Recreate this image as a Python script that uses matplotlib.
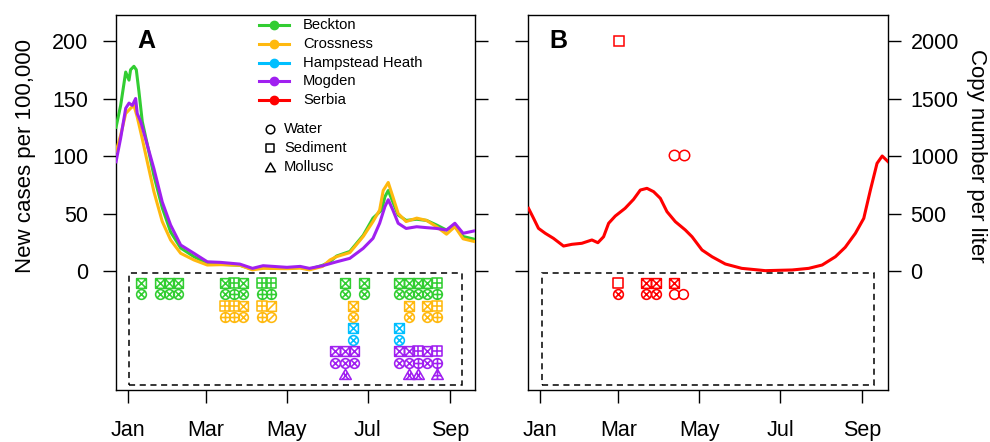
import matplotlib
matplotlib.use('Agg')
import matplotlib.pyplot as plt
from matplotlib.path import Path
from matplotlib.markers import MarkerStyle
from matplotlib.patches import Rectangle
from matplotlib.transforms import blended_transform_factory

plt.rcParams['font.family'] = ['Liberation Sans', 'DejaVu Sans']

# ---------------- data (days since 1 Jan 2021) ----------------
month_ticks = [0, 59, 120, 181, 243]
month_labels = ['Jan', 'Mar', 'May', 'Jul', 'Sep']

beckton_days = [-9, -5.5, -1.7, 0.8, 2, 4.5, 6.3, 8.3, 10.8, 14.6, 19.6, 25.9, 32.2, 39.8, 49.8, 59.9,
                70, 84.5, 94, 102, 120, 130, 137, 147, 152.5, 157.5, 167.5, 177.6, 185, 191.5, 194,
                196.5, 200, 204, 210, 218, 225.4, 233, 240.5, 246.8, 253, 262]
beckton_cases = [125, 144, 173, 166, 175, 178, 175, 156, 130, 110, 83, 55, 34, 20, 12.5, 6.7,
                 5.8, 5, 1.5, 3.5, 2.5, 3, 1.5, 5, 8, 13, 17, 31, 46, 53, 64.6,
                 70, 60, 48.7, 44, 45, 44, 40, 35.6, 40, 30, 27.5]

crossness_days = [-9, -5.5, -1.7, 2, 4.5, 7, 10.8, 14.6, 19.6, 25.9, 32.2, 39.8, 49.8, 59.9, 70,
                  84.5, 94, 102, 120, 130, 137, 147, 152.5, 157.5, 167.5, 177.6, 185, 190, 192.7,
                  196.5, 200, 204, 210, 218, 225.4, 233, 240.5, 246.8, 253, 262]
crossness_cases = [104, 118, 137, 141.5, 144, 134, 115, 95, 69, 43, 27, 15.4, 9.6, 5.2, 5.5,
                   5, 1, 2.3, 2, 2.5, 1, 4, 9.6, 12.5, 16, 30, 43, 53, 70,
                   77, 64.6, 50, 43, 46, 44, 38.5, 32, 38.5, 28, 25.5]

mogden_days = [-9, -5.5, -1.7, 0.8, 3.3, 5.8, 7, 9.6, 14.6, 19.6, 25.9, 32.2, 39.8, 49.8, 59.9, 70,
               84.5, 94, 102, 120, 130, 137, 147, 157.5, 167.5, 177.6, 185, 190, 194, 196.5, 200,
               204, 210, 218, 225.4, 233, 240.5, 246.8, 253, 262]
mogden_cases = [95, 115.6, 141.5, 146, 144, 150, 137, 130, 109.6, 89, 60, 40, 22.6, 15.4, 8, 7.5,
                6, 2.3, 4.6, 3.2, 4, 2.3, 4.6, 8, 11, 19.7, 28.4, 41.5, 56, 62, 53,
                41.5, 37, 38.5, 37.7, 37, 35.6, 41.5, 32.8, 35]

serbia_days = [-8.8, -5, -1.3, 3.8, 10, 17.6, 23.9, 31.4, 39, 43.5, 47.8, 51.6, 56.6, 64, 70.4, 75.5,
               80.5, 85.5, 90.6, 95.6, 101.9, 109.4, 114.5, 122, 129.6, 139.6, 152, 169.8, 190,
               202.5, 212.6, 222.6, 230, 237.7, 244, 249, 254, 257.9, 262.4]
serbia_copies = [545, 458, 371, 328, 284, 217, 232, 241, 270, 246, 298, 415, 478, 545, 623, 704,
                 719, 690, 632, 516, 429, 357, 298, 183, 124, 61, 23, 3, 9,
                 23, 52, 124, 206, 328, 458, 704, 936, 1000, 950]

# sampling results: 'x' crossed, '+' plus, '/' slash, 'o' plain
beckton_sed_days = [10, 24, 31, 38, 73, 80, 87, 101, 108, 164, 178, 205, 212, 219, 226, 233]
beckton_sed_sym = ['x', 'x', 'x', 'x', 'x', '+', 'x', '+', '+', 'x', 'x', 'x', 'x', 'x', 'x', '+']
beckton_wat_days = beckton_sed_days
beckton_wat_sym = beckton_sed_sym

crossness_sed_days = [73, 80, 87, 101, 108, 170, 212, 226, 233]
crossness_sed_sym = ['+', '+', 'x', '+', '/', 'x', 'x', 'x', '+']
crossness_wat_days = crossness_sed_days
crossness_wat_sym = crossness_sed_sym

hampstead_sed_days = [170, 205]
hampstead_sed_sym = ['x', 'x']
hampstead_wat_days = [170, 205]
hampstead_wat_sym = ['x', 'x']

mogden_sed_days = [156, 164, 171, 205, 212, 219, 226, 233]
mogden_sed_sym = ['x', 'x', 'x', 'x', 'x', '+', 'x', '+']
mogden_wat_days = mogden_sed_days
mogden_wat_sym = mogden_sed_sym
mogden_mol_days = [164, 212, 219, 233]
mogden_mol_sym = ['x', 'x', 'x', '+']

serbia_sed_days = [59, 80, 87, 101]
serbia_sed_sym = ['o', 'x', 'x', 'x']
serbia_wat_days = [59, 80, 87, 101, 108]
serbia_wat_sym = ['x', 'x', 'x', 'o', 'o']

serbia_sed_conc_days = [59.5]
serbia_sed_conc = [2000]
serbia_wat_conc_days = [100.6, 108.7]
serbia_wat_conc = [1010, 1010]

sites = ['Beckton', 'Crossness', 'Hampstead Heath', 'Mogden', 'Serbia']
colors = {'Beckton': '#32CD32', 'Crossness': '#FFB90F', 'Hampstead Heath': '#00BFFF',
          'Mogden': '#A020F0', 'Serbia': '#FF0000'}

# ---------------- marker paths ----------------
M, L, C = Path.MOVETO, Path.LINETO, Path.CLOSEPOLY


def sym_path(shape, inner):
    if shape == 's':
        outline = Path([(-1, -1), (1, -1), (1, 1), (-1, 1), (-1, -1)], [M, L, L, L, C])
        segs = {'x': [((-1, -1), (1, 1)), ((-1, 1), (1, -1))],
                '+': [((-1, 0), (1, 0)), ((0, -1), (0, 1))],
                '/': [((-1, -1), (1, 1))], 'o': []}[inner]
    elif shape == 'o':
        outline = Path.unit_circle()
        r = 0.7071
        segs = {'x': [((-r, -r), (r, r)), ((-r, r), (r, -r))],
                '+': [((-1, 0), (1, 0)), ((0, -1), (0, 1))],
                '/': [((-r, -r), (r, r))], 'o': []}[inner]
    else:
        outline = Path([(-1, -0.85), (1, -0.85), (0, 0.9), (-1, -0.85)], [M, L, L, C])
        segs = {'x': [((-0.5, -0.85), (0.35, 0.3)), ((-0.35, 0.3), (0.5, -0.85))],
                '+': [((-0.63, -0.2), (0.63, -0.2)), ((0, -0.85), (0, 0.9))],
                '/': [((-0.5, -0.85), (0.35, 0.3))], 'o': []}[inner]
    if not segs:
        return outline
    verts, codes = [], []
    for a, b in segs:
        verts += [a, b]
        codes += [M, L]
    return Path.make_compound_path(outline, Path(verts, codes))


def draw_samples(ax, days, y, shape, syms, color, ms=7.0):
    for s in sorted(set(syms)):
        xs = [d for d, k in zip(days, syms) if k == s]
        ax.plot(xs, [y] * len(xs), ls='none', marker=MarkerStyle(sym_path(shape, s)),
                ms=ms, mfc='none', mec=color, mew=1.15, clip_on=False, zorder=4)


# ---------------- figure ----------------
fig = plt.figure(figsize=(9.9, 4.42), dpi=100)
axA = fig.add_axes([0.1172, 0.1176, 0.3626, 0.8484])
axB = fig.add_axes([0.5336, 0.1176, 0.3630, 0.8484])

XLIM = (-9, 262)
for ax in (axA, axB):
    ax.set_xlim(*XLIM)
    ax.set_xticks(month_ticks)
    ax.set_xticklabels(month_labels, fontsize=15.5)
    ax.tick_params(axis='x', direction='out', length=9.4, width=1.0, pad=12)
    ax.tick_params(axis='y', direction='out', length=9.4, width=1.0, labelsize=15.5)
    for sp in ax.spines.values():
        sp.set_linewidth(1.0)

# Panel A
axA.set_ylim(-103.5, 222.6)
axA.set_yticks([0, 50, 100, 150, 200])
axA.tick_params(axis='y', left=True, right=True, labelleft=True, labelright=False, pad=10.5)
axA.plot(beckton_days, beckton_cases, color=colors['Beckton'], lw=2.2, zorder=3)
axA.plot(crossness_days, crossness_cases, color=colors['Crossness'], lw=2.2, zorder=3)
axA.plot(mogden_days, mogden_cases, color=colors['Mogden'], lw=2.2, zorder=3)
axA.add_patch(Rectangle((1, -99), 251, 97, fill=False, ls=(0, (4, 3)), lw=1.1, ec='black'))

draw_samples(axA, beckton_sed_days, -10, 's', beckton_sed_sym, colors['Beckton'])
draw_samples(axA, beckton_wat_days, -20, 'o', beckton_wat_sym, colors['Beckton'])
draw_samples(axA, crossness_sed_days, -30, 's', crossness_sed_sym, colors['Crossness'])
draw_samples(axA, crossness_wat_days, -40, 'o', crossness_wat_sym, colors['Crossness'])
draw_samples(axA, hampstead_sed_days, -50, 's', hampstead_sed_sym, colors['Hampstead Heath'])
draw_samples(axA, hampstead_wat_days, -60, 'o', hampstead_wat_sym, colors['Hampstead Heath'])
draw_samples(axA, mogden_sed_days, -70, 's', mogden_sed_sym, colors['Mogden'])
draw_samples(axA, mogden_wat_days, -80, 'o', mogden_wat_sym, colors['Mogden'])
draw_samples(axA, mogden_mol_days, -90, '^', mogden_mol_sym, colors['Mogden'], ms=8.3)

axA.text(0.0836, 0.9307, 'A', transform=axA.transAxes, fontsize=18, fontweight='bold',
         ha='center', va='center')
trA = blended_transform_factory(axA.transAxes, axA.transData)
axA.text(-0.2535, 100, 'New cases per 100,000', transform=trA, rotation=90,
         ha='center', va='center', fontsize=16)

# legend (manual, R-style without box)
leg_y = [0.9733, 0.9227, 0.872, 0.824, 0.7733]
for s, yy in zip(sites, leg_y):
    axA.plot([0.398, 0.482], [yy, yy], color=colors[s], lw=2.2, transform=axA.transAxes,
             clip_on=False, zorder=5)
    axA.plot([0.440], [yy], marker='o', ms=6, color=colors[s], transform=axA.transAxes,
             clip_on=False, zorder=5)
    axA.text(0.521, yy, s, transform=axA.transAxes, fontsize=10.6, va='center', ha='left')
for lab, mk, yy, msz in zip(['Water', 'Sediment', 'Mollusc'], ['o', 's', '^'],
                            [0.696, 0.645, 0.595], [6.2, 6.0, 7.2]):
    axA.plot([0.429], [yy], marker=MarkerStyle(sym_path(mk, 'o')), ms=msz, mfc='none', mec='black',
             mew=1.1, transform=axA.transAxes, clip_on=False)
    axA.text(0.468, yy, lab, transform=axA.transAxes, fontsize=10.6, va='center', ha='left')

# Panel B
axB.set_ylim(-1035, 2226)
axB.set_yticks([0, 500, 1000, 1500, 2000])
axB.tick_params(axis='y', left=True, right=True, labelleft=False, labelright=True, pad=7)
axB.plot(serbia_days, serbia_copies, color=colors['Serbia'], lw=2.2, zorder=3)
axB.add_patch(Rectangle((1, -990), 251, 970, fill=False, ls=(0, (4, 3)), lw=1.1, ec='black'))
draw_samples(axB, serbia_sed_days, -100, 's', serbia_sed_sym, colors['Serbia'])
draw_samples(axB, serbia_wat_days, -200, 'o', serbia_wat_sym, colors['Serbia'])
axB.plot(serbia_sed_conc_days, serbia_sed_conc, ls='none', marker='s', ms=7, mfc='none',
         mec=colors['Serbia'], mew=1.1)
axB.plot(serbia_wat_conc_days, serbia_wat_conc, ls='none', marker='o', ms=7.5, mfc='none',
         mec=colors['Serbia'], mew=1.1)
axB.text(0.0846, 0.9307, 'B', transform=axB.transAxes, fontsize=18, fontweight='bold',
         ha='center', va='center')
trB = blended_transform_factory(axB.transAxes, axB.transData)
axB.text(1.2485, 1000, 'Copy number per liter', transform=trB, rotation=270,
         ha='center', va='center', fontsize=16)

fig.savefig('out.png', dpi=100)
